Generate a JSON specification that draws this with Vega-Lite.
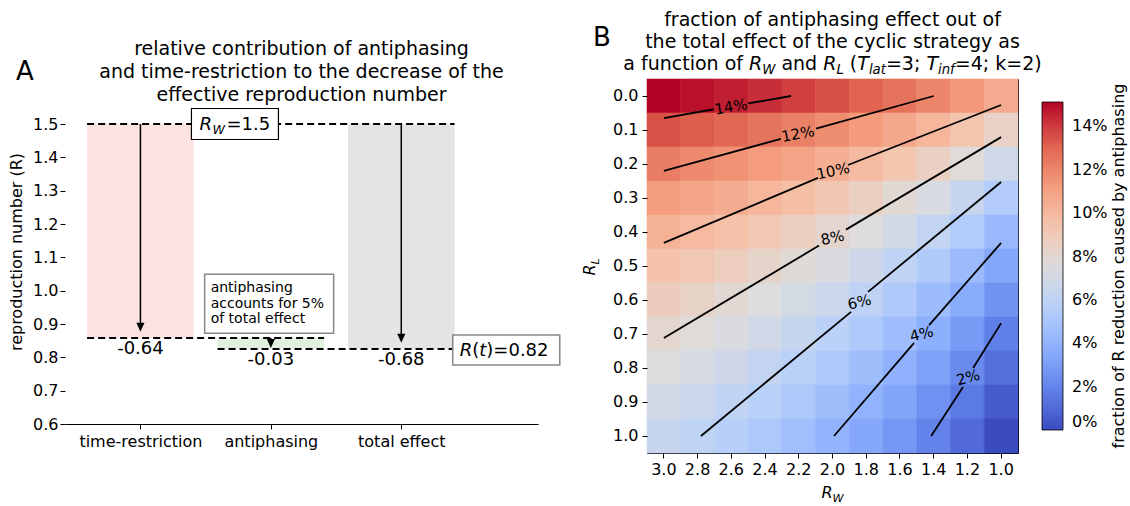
{
  "$schema": "https://vega.github.io/schema/vega-lite/v6.json",
  "padding": {"left": 8, "top": 10, "right": 0, "bottom": 0},
  "spacing": 20,
  "config": {
    "font": "DejaVu Sans",
    "view": {"stroke": null},
    "axis": {"labelFont": "DejaVu Sans", "titleFont": "DejaVu Sans", "grid": false},
    "legend": {"labelFont": "DejaVu Sans"}
  },
  "datasets": {
    "effects": [
      {"name": "time-restriction", "cat": 0, "top": 1.5, "bottom": 0.858, "tip": 0.877, "delta": "-0.64"},
      {"name": "antiphasing", "cat": 1, "top": 0.858, "bottom": 0.825, "tip": 0.828, "delta": "-0.03"},
      {"name": "total effect", "cat": 2, "top": 1.5, "bottom": 0.825, "tip": 0.844, "delta": "-0.68"}
    ],
    "levels": [
      {"level": 1.5, "start": 0, "end": 2},
      {"level": 0.858, "start": 0, "end": 1},
      {"level": 0.825, "start": 1, "end": 2}
    ],
    "grid": [
      {"RW": 3.0, "RL": 0.0, "f": 0.1513}, {"RW": 3.0, "RL": 0.1, "f": 0.1355}, {"RW": 3.0, "RL": 0.2, "f": 0.1226}, {"RW": 3.0, "RL": 0.3, "f": 0.1124}, {"RW": 3.0, "RL": 0.4, "f": 0.1029}, {"RW": 3.0, "RL": 0.5, "f": 0.0950}, {"RW": 3.0, "RL": 0.6, "f": 0.0879}, {"RW": 3.0, "RL": 0.7, "f": 0.0807}, {"RW": 3.0, "RL": 0.8, "f": 0.0753}, {"RW": 3.0, "RL": 0.9, "f": 0.0701}, {"RW": 3.0, "RL": 1.0, "f": 0.0649},
      {"RW": 2.8, "RL": 0.0, "f": 0.1487}, {"RW": 2.8, "RL": 0.1, "f": 0.1328}, {"RW": 2.8, "RL": 0.2, "f": 0.1192}, {"RW": 2.8, "RL": 0.3, "f": 0.1091}, {"RW": 2.8, "RL": 0.4, "f": 0.0992}, {"RW": 2.8, "RL": 0.5, "f": 0.0915}, {"RW": 2.8, "RL": 0.6, "f": 0.0839}, {"RW": 2.8, "RL": 0.7, "f": 0.0773}, {"RW": 2.8, "RL": 0.8, "f": 0.0717}, {"RW": 2.8, "RL": 0.9, "f": 0.0661}, {"RW": 2.8, "RL": 1.0, "f": 0.0605},
      {"RW": 2.6, "RL": 0.0, "f": 0.1460}, {"RW": 2.6, "RL": 0.1, "f": 0.1296}, {"RW": 2.6, "RL": 0.2, "f": 0.1162}, {"RW": 2.6, "RL": 0.3, "f": 0.1053}, {"RW": 2.6, "RL": 0.4, "f": 0.0958}, {"RW": 2.6, "RL": 0.5, "f": 0.0876}, {"RW": 2.6, "RL": 0.6, "f": 0.0795}, {"RW": 2.6, "RL": 0.7, "f": 0.0735}, {"RW": 2.6, "RL": 0.8, "f": 0.0675}, {"RW": 2.6, "RL": 0.9, "f": 0.0615}, {"RW": 2.6, "RL": 1.0, "f": 0.0565},
      {"RW": 2.4, "RL": 0.0, "f": 0.1427}, {"RW": 2.4, "RL": 0.1, "f": 0.1260}, {"RW": 2.4, "RL": 0.2, "f": 0.1127}, {"RW": 2.4, "RL": 0.3, "f": 0.1010}, {"RW": 2.4, "RL": 0.4, "f": 0.0918}, {"RW": 2.4, "RL": 0.5, "f": 0.0829}, {"RW": 2.4, "RL": 0.6, "f": 0.0756}, {"RW": 2.4, "RL": 0.7, "f": 0.0691}, {"RW": 2.4, "RL": 0.8, "f": 0.0626}, {"RW": 2.4, "RL": 0.9, "f": 0.0570}, {"RW": 2.4, "RL": 1.0, "f": 0.0519},
      {"RW": 2.2, "RL": 0.0, "f": 0.1391}, {"RW": 2.2, "RL": 0.1, "f": 0.1217}, {"RW": 2.2, "RL": 0.2, "f": 0.1086}, {"RW": 2.2, "RL": 0.3, "f": 0.0969}, {"RW": 2.2, "RL": 0.4, "f": 0.0872}, {"RW": 2.2, "RL": 0.5, "f": 0.0782}, {"RW": 2.2, "RL": 0.6, "f": 0.0711}, {"RW": 2.2, "RL": 0.7, "f": 0.0640}, {"RW": 2.2, "RL": 0.8, "f": 0.0576}, {"RW": 2.2, "RL": 0.9, "f": 0.0521}, {"RW": 2.2, "RL": 1.0, "f": 0.0466},
      {"RW": 2.0, "RL": 0.0, "f": 0.1357}, {"RW": 2.0, "RL": 0.1, "f": 0.1176}, {"RW": 2.0, "RL": 0.2, "f": 0.1038}, {"RW": 2.0, "RL": 0.3, "f": 0.0923}, {"RW": 2.0, "RL": 0.4, "f": 0.0816}, {"RW": 2.0, "RL": 0.5, "f": 0.0734}, {"RW": 2.0, "RL": 0.6, "f": 0.0656}, {"RW": 2.0, "RL": 0.7, "f": 0.0583}, {"RW": 2.0, "RL": 0.8, "f": 0.0523}, {"RW": 2.0, "RL": 0.9, "f": 0.0463}, {"RW": 2.0, "RL": 1.0, "f": 0.0404},
      {"RW": 1.8, "RL": 0.0, "f": 0.1310}, {"RW": 1.8, "RL": 0.1, "f": 0.1132}, {"RW": 1.8, "RL": 0.2, "f": 0.0985}, {"RW": 1.8, "RL": 0.3, "f": 0.0866}, {"RW": 1.8, "RL": 0.4, "f": 0.0762}, {"RW": 1.8, "RL": 0.5, "f": 0.0676}, {"RW": 1.8, "RL": 0.6, "f": 0.0592}, {"RW": 1.8, "RL": 0.7, "f": 0.0526}, {"RW": 1.8, "RL": 0.8, "f": 0.0460}, {"RW": 1.8, "RL": 0.9, "f": 0.0396}, {"RW": 1.8, "RL": 1.0, "f": 0.0347},
      {"RW": 1.6, "RL": 0.0, "f": 0.1261}, {"RW": 1.6, "RL": 0.1, "f": 0.1078}, {"RW": 1.6, "RL": 0.2, "f": 0.0929}, {"RW": 1.6, "RL": 0.3, "f": 0.0797}, {"RW": 1.6, "RL": 0.4, "f": 0.0700}, {"RW": 1.6, "RL": 0.5, "f": 0.0604}, {"RW": 1.6, "RL": 0.6, "f": 0.0529}, {"RW": 1.6, "RL": 0.7, "f": 0.0455}, {"RW": 1.6, "RL": 0.8, "f": 0.0386}, {"RW": 1.6, "RL": 0.9, "f": 0.0332}, {"RW": 1.6, "RL": 1.0, "f": 0.0277},
      {"RW": 1.4, "RL": 0.0, "f": 0.1200}, {"RW": 1.4, "RL": 0.1, "f": 0.1011}, {"RW": 1.4, "RL": 0.2, "f": 0.0858}, {"RW": 1.4, "RL": 0.3, "f": 0.0731}, {"RW": 1.4, "RL": 0.4, "f": 0.0621}, {"RW": 1.4, "RL": 0.5, "f": 0.0533}, {"RW": 1.4, "RL": 0.6, "f": 0.0450}, {"RW": 1.4, "RL": 0.7, "f": 0.0375}, {"RW": 1.4, "RL": 0.8, "f": 0.0314}, {"RW": 1.4, "RL": 0.9, "f": 0.0252}, {"RW": 1.4, "RL": 1.0, "f": 0.0192},
      {"RW": 1.2, "RL": 0.0, "f": 0.1141}, {"RW": 1.2, "RL": 0.1, "f": 0.0939}, {"RW": 1.2, "RL": 0.2, "f": 0.0773}, {"RW": 1.2, "RL": 0.3, "f": 0.0645}, {"RW": 1.2, "RL": 0.4, "f": 0.0538}, {"RW": 1.2, "RL": 0.5, "f": 0.0443}, {"RW": 1.2, "RL": 0.6, "f": 0.0361}, {"RW": 1.2, "RL": 0.7, "f": 0.0290}, {"RW": 1.2, "RL": 0.8, "f": 0.0219}, {"RW": 1.2, "RL": 0.9, "f": 0.0161}, {"RW": 1.2, "RL": 1.0, "f": 0.0106},
      {"RW": 1.0, "RL": 0.0, "f": 0.1063}, {"RW": 1.0, "RL": 0.1, "f": 0.0842}, {"RW": 1.0, "RL": 0.2, "f": 0.0678}, {"RW": 1.0, "RL": 0.3, "f": 0.0545}, {"RW": 1.0, "RL": 0.4, "f": 0.0434}, {"RW": 1.0, "RL": 0.5, "f": 0.0342}, {"RW": 1.0, "RL": 0.6, "f": 0.0258}, {"RW": 1.0, "RL": 0.7, "f": 0.0181}, {"RW": 1.0, "RL": 0.8, "f": 0.0119}, {"RW": 1.0, "RL": 0.9, "f": 0.0056}, {"RW": 1.0, "RL": 1.0, "f": 0.0000}
    ],
    "contours": [
      {"seg": "14a", "RW": 3.0, "RL": 0.065}, {"seg": "14a", "RW": 2.703, "RL": 0.039},
      {"seg": "14b", "RW": 2.5, "RL": 0.022}, {"seg": "14b", "RW": 2.246, "RL": 0.0},
      {"seg": "12a", "RW": 3.0, "RL": 0.22}, {"seg": "12a", "RW": 2.306, "RL": 0.126},
      {"seg": "12b", "RW": 2.098, "RL": 0.096}, {"seg": "12b", "RW": 1.4, "RL": 0.0},
      {"seg": "10a", "RW": 3.0, "RL": 0.432}, {"seg": "10a", "RW": 2.086, "RL": 0.241},
      {"seg": "10b", "RW": 1.908, "RL": 0.203}, {"seg": "10b", "RW": 1.0, "RL": 0.0265},
      {"seg": "8a", "RW": 3.0, "RL": 0.712}, {"seg": "8a", "RW": 2.08, "RL": 0.44},
      {"seg": "8b", "RW": 1.92, "RL": 0.393}, {"seg": "8b", "RW": 1.0, "RL": 0.121},
      {"seg": "6a", "RW": 2.78, "RL": 1.0}, {"seg": "6a", "RW": 1.89, "RL": 0.635},
      {"seg": "6b", "RW": 1.789, "RL": 0.576}, {"seg": "6b", "RW": 1.0, "RL": 0.253},
      {"seg": "4a", "RW": 1.991, "RL": 1.0}, {"seg": "4a", "RW": 1.516, "RL": 0.726},
      {"seg": "4b", "RW": 1.427, "RL": 0.674}, {"seg": "4b", "RW": 1.0, "RL": 0.432},
      {"seg": "2a", "RW": 1.415, "RL": 1.0}, {"seg": "2a", "RW": 1.226, "RL": 0.856},
      {"seg": "2b", "RW": 1.166, "RL": 0.8}, {"seg": "2b", "RW": 1.0, "RL": 0.668}
    ],
    "clabels": [
      {"lab": "14%", "RW": 2.602, "RL": 0.032},
      {"lab": "12%", "RW": 2.205, "RL": 0.112},
      {"lab": "10%", "RW": 1.997, "RL": 0.221},
      {"lab": "8%", "RW": 2.0, "RL": 0.417},
      {"lab": "6%", "RW": 1.84, "RL": 0.606},
      {"lab": "4%", "RW": 1.472, "RL": 0.7},
      {"lab": "2%", "RW": 1.196, "RL": 0.828}
    ]
  },
  "hconcat": [
    {
      "width": 473,
      "height": 345,
      "resolve": {"axis": {"x": "independent", "y": "independent"}},
      "layer": [
        {
          "data": {"name": "effects"},
          "mark": {"type": "bar", "width": 106.6},
          "encoding": {
            "x": {"field": "cat", "type": "quantitative",
              "scale": {"domain": [-0.54, 3.01], "nice": false, "zero": false},
              "axis": {"values": [0, 1, 2], "labelExpr": "datum.value == 0 ? 'time-restriction' : datum.value == 1 ? 'antiphasing' : 'total effect'",
                "title": null, "domainColor": "black", "tickColor": "black", "tickSize": 5, "labelFontSize": 16, "labelColor": "black", "labelPadding": 4, "labelFlush": false, "labelOverlap": false}},
            "y": {"field": "top", "type": "quantitative",
              "scale": {"domain": [0.6, 1.635], "nice": false, "zero": false},
              "axis": {"values": [0.6, 0.7, 0.8, 0.9, 1.0, 1.1, 1.2, 1.3, 1.4, 1.5], "format": ".1f", "domain": false, "tickColor": "black", "tickSize": 5,
                "labelFontSize": 16, "labelColor": "black", "labelFlush": false, "labelOverlap": false, "labelBound": false, "title": "reproduction number (R)", "titleFontSize": 16, "titleFontWeight": "normal", "titleColor": "black", "titlePadding": 8}},
            "y2": {"field": "bottom"},
            "color": {"field": "name", "type": "nominal",
              "scale": {"domain": ["time-restriction", "antiphasing", "total effect"], "range": ["#fde2e2", "#e2f0e0", "#e4e4e4"]}, "legend": null}
          }
        },
        {
          "data": {"name": "levels"},
          "mark": {"type": "rule", "strokeDash": [7, 4], "strokeWidth": 2, "color": "black", "xOffset": -53.3, "x2Offset": 53.3},
          "encoding": {
            "x": {"field": "start", "type": "quantitative", "axis": null},
            "x2": {"field": "end"},
            "y": {"field": "level", "type": "quantitative", "axis": null}
          }
        },
        {
          "data": {"name": "effects"},
          "mark": {"type": "rule", "strokeWidth": 1.5, "color": "black", "y2Offset": -5},
          "encoding": {
            "x": {"field": "cat", "type": "quantitative", "axis": null},
            "y": {"field": "top", "type": "quantitative", "axis": null},
            "y2": {"field": "tip"}
          }
        },
        {
          "data": {"name": "effects"},
          "mark": {"type": "point", "shape": "M0,0L-0.45,-1L0.45,-1Z", "size": 324, "filled": true, "color": "black", "opacity": 1, "strokeWidth": 0},
          "encoding": {
            "x": {"field": "cat", "type": "quantitative", "axis": null},
            "y": {"field": "tip", "type": "quantitative", "axis": null}
          }
        },
        {
          "data": {"name": "effects"},
          "mark": {"type": "text", "fontSize": 18, "dy": 11, "baseline": "middle", "align": "center", "color": "black"},
          "encoding": {
            "x": {"field": "cat", "type": "quantitative", "axis": null},
            "y": {"field": "bottom", "type": "quantitative", "axis": null},
            "text": {"field": "delta"}
          }
        },
        {
          "data": {"values": [{}]},
          "mark": {"type": "rect", "fill": "white", "stroke": "black", "strokeWidth": 1.2, "xOffset": -43.5, "x2Offset": 43.5, "yOffset": -15.5, "y2Offset": 15.5},
          "encoding": {"x": {"datum": 0.7246, "type": "quantitative", "axis": null}, "x2": {"datum": 0.7246}, "y": {"datum": 1.5, "type": "quantitative", "axis": null}, "y2": {"datum": 1.5}}
        },
        {
          "data": {"values": [{}]},
          "mark": {"type": "rect", "fill": "white", "stroke": "#888888", "strokeWidth": 1.5, "xOffset": -53.5, "x2Offset": 53.5, "yOffset": -15, "y2Offset": 15},
          "encoding": {"x": {"datum": 2.805, "type": "quantitative", "axis": null}, "x2": {"datum": 2.805}, "y": {"datum": 0.822, "type": "quantitative", "axis": null}, "y2": {"datum": 0.822}}
        },
        {
          "data": {"values": [{}]},
          "mark": {"type": "rect", "fill": "white", "stroke": "#888888", "strokeWidth": 1.5, "xOffset": -64.5, "x2Offset": 64.5, "yOffset": -29.5, "y2Offset": 29.5},
          "encoding": {"x": {"datum": 0.987, "type": "quantitative", "axis": null}, "x2": {"datum": 0.987}, "y": {"datum": 0.961, "type": "quantitative", "axis": null}, "y2": {"datum": 0.961}}
        },
        {
          "data": {"values": [{}]},
          "mark": {"type": "text", "text": ["antiphasing", "accounts for 5%", "of total effect"], "fontSize": 14, "lineHeight": 15.5, "align": "left", "baseline": "middle", "dx": -58.5, "dy": -15.5, "color": "black"},
          "encoding": {"x": {"datum": 0.987, "type": "quantitative", "axis": null}, "y": {"datum": 0.961, "type": "quantitative", "axis": null}}
        },
        {
          "data": {"values": [{}]},
          "mark": {"type": "text", "text": "R", "fontSize": 18, "fontStyle": "italic", "align": "left", "baseline": "alphabetic", "dx": -35.5, "dy": 6, "color": "black"},
          "encoding": {"x": {"datum": 0.7246, "type": "quantitative", "axis": null}, "y": {"datum": 1.5, "type": "quantitative", "axis": null}}
        },
        {
          "data": {"values": [{}]},
          "mark": {"type": "text", "text": "W", "fontSize": 12.6, "fontStyle": "italic", "align": "left", "baseline": "alphabetic", "dx": -22.5, "dy": 10, "color": "black"},
          "encoding": {"x": {"datum": 0.7246, "type": "quantitative", "axis": null}, "y": {"datum": 1.5, "type": "quantitative", "axis": null}}
        },
        {
          "data": {"values": [{}]},
          "mark": {"type": "text", "text": "=1.5", "fontSize": 18, "align": "left", "baseline": "alphabetic", "dx": -8.5, "dy": 6, "color": "black"},
          "encoding": {"x": {"datum": 0.7246, "type": "quantitative", "axis": null}, "y": {"datum": 1.5, "type": "quantitative", "axis": null}}
        },
        {
          "data": {"values": [{}]},
          "mark": {"type": "text", "text": "R", "fontSize": 18, "fontStyle": "italic", "align": "left", "baseline": "alphabetic", "dx": -46.5, "dy": 6, "color": "black"},
          "encoding": {"x": {"datum": 2.805, "type": "quantitative", "axis": null}, "y": {"datum": 0.822, "type": "quantitative", "axis": null}}
        },
        {
          "data": {"values": [{}]},
          "mark": {"type": "text", "text": "(", "fontSize": 18, "align": "left", "baseline": "alphabetic", "dx": -34, "dy": 6, "color": "black"},
          "encoding": {"x": {"datum": 2.805, "type": "quantitative", "axis": null}, "y": {"datum": 0.822, "type": "quantitative", "axis": null}}
        },
        {
          "data": {"values": [{}]},
          "mark": {"type": "text", "text": "t", "fontSize": 18, "fontStyle": "italic", "align": "left", "baseline": "alphabetic", "dx": -27, "dy": 6, "color": "black"},
          "encoding": {"x": {"datum": 2.805, "type": "quantitative", "axis": null}, "y": {"datum": 0.822, "type": "quantitative", "axis": null}}
        },
        {
          "data": {"values": [{}]},
          "mark": {"type": "text", "text": ")", "fontSize": 18, "align": "left", "baseline": "alphabetic", "dx": -19.9, "dy": 6, "color": "black"},
          "encoding": {"x": {"datum": 2.805, "type": "quantitative", "axis": null}, "y": {"datum": 0.822, "type": "quantitative", "axis": null}}
        },
        {
          "data": {"values": [{}]},
          "mark": {"type": "text", "text": "=0.82", "fontSize": 18, "align": "left", "baseline": "alphabetic", "dx": -12.9, "dy": 6, "color": "black"},
          "encoding": {"x": {"datum": 2.805, "type": "quantitative", "axis": null}, "y": {"datum": 0.822, "type": "quantitative", "axis": null}}
        },
        {
          "data": {"values": [{}]},
          "mark": {"type": "text", "text": "A", "fontSize": 26, "align": "center", "baseline": "middle", "dx": -45, "dy": -7, "color": "black"},
          "encoding": {"x": {"datum": -0.54, "type": "quantitative", "axis": null}, "y": {"datum": 1.635, "type": "quantitative", "axis": null}}
        },
        {
          "data": {"values": [{}]},
          "mark": {"type": "text", "text": ["relative contribution of antiphasing", "and time-restriction to the decrease of the", "effective reproduction number"], "fontSize": 19, "lineHeight": 23, "align": "center", "baseline": "middle", "dy": -30, "color": "black"},
          "encoding": {"x": {"datum": 1.235, "type": "quantitative", "axis": null}, "y": {"datum": 1.635, "type": "quantitative", "axis": null}}
        }
      ]
    },
    {
      "width": 371,
      "height": 374,
      "view": {"stroke": "black", "strokeWidth": 1},
      "resolve": {"scale": {"x": "independent", "y": "independent"}},
      "layer": [
        {
          "data": {"name": "grid"},
          "mark": {"type": "rect", "strokeWidth": 0.6},
          "encoding": {
            "x": {"field": "RW", "type": "ordinal", "sort": "descending",
              "scale": {"paddingInner": 0, "paddingOuter": 0},
              "axis": {"labelExpr": "format(datum.value, '.1f')", "title": null, "labelAngle": 0, "tickSize": 5, "tickColor": "black", "labelColor": "black", "labelFontSize": 16, "domain": false, "labelPadding": 3}},
            "y": {"field": "RL", "type": "ordinal",
              "scale": {"paddingInner": 0, "paddingOuter": 0},
              "axis": {"labelExpr": "format(datum.value, '.1f')", "title": null, "tickSize": 5, "tickColor": "black", "labelColor": "black", "labelFontSize": 16, "domain": false, "labelPadding": 4}},
            "color": {"field": "f", "type": "quantitative",
              "scale": {"domain": [0, 0.0189, 0.0378, 0.0567, 0.0757, 0.0946, 0.1135, 0.1324, 0.1513],
                "range": ["#3b4cc0", "#6282ea", "#8db0fe", "#b8d0f9", "#dddddd", "#f5c4ac", "#f49a7b", "#de604d", "#b40426"], "interpolate": "rgb"},
              "legend": {"title": null, "orient": "none", "legendX": 395, "legendY": 23, "direction": "vertical", "gradientLength": 328, "gradientThickness": 21,
                "values": [0, 0.02, 0.04, 0.06, 0.08, 0.1, 0.12, 0.14], "format": ".0%", "labelFontSize": 16, "labelColor": "black", "labelOffset": 9,
                "gradientStrokeColor": "black", "gradientStrokeWidth": 0.8, "padding": 0, "labelOverlap": false}},
            "stroke": {"field": "f", "type": "quantitative",
              "scale": {"domain": [0, 0.0189, 0.0378, 0.0567, 0.0757, 0.0946, 0.1135, 0.1324, 0.1513],
                "range": ["#3b4cc0", "#6282ea", "#8db0fe", "#b8d0f9", "#dddddd", "#f5c4ac", "#f49a7b", "#de604d", "#b40426"], "interpolate": "rgb"},
              "legend": null}
          }
        },
        {
          "layer": [
            {
              "data": {"name": "contours"},
              "mark": {"type": "line", "color": "black", "strokeWidth": 1.8},
              "encoding": {
                "x": {"field": "RW", "type": "quantitative", "scale": {"domain": [0.9, 3.1], "reverse": true, "nice": false, "zero": false}, "axis": null},
                "y": {"field": "RL", "type": "quantitative", "scale": {"domain": [-0.05, 1.05], "reverse": true, "nice": false, "zero": false}, "axis": null},
                "detail": {"field": "seg"}
              }
            },
            {
              "data": {"name": "clabels"},
              "mark": {"type": "text", "fontSize": 15, "align": "center", "baseline": "middle", "color": "black"},
              "encoding": {
                "x": {"field": "RW", "type": "quantitative", "axis": null},
                "y": {"field": "RL", "type": "quantitative", "axis": null},
                "text": {"field": "lab"},
                "angle": {"field": "lab", "type": "ordinal", "scale": {"domain": ["14%", "12%", "10%", "8%", "6%", "4%", "2%"], "range": [350, 345, 337, 329, 320, 311, 302]}, "legend": null}
              }
            },
            {"data": {"values": [{}]}, "mark": {"type": "text", "text": ["fraction of antiphasing effect out of", "the total effect of the cyclic strategy as"], "fontSize": 19, "lineHeight": 21.5, "align": "center", "baseline": "middle", "dy": -59, "color": "black"},
              "encoding": {"x": {"datum": 2.0, "type": "quantitative", "axis": null}, "y": {"datum": -0.05, "type": "quantitative", "axis": null}}},
            {"data": {"values": [{}]}, "mark": {"type": "text", "text": "a function of", "fontSize": 19, "align": "left", "baseline": "alphabetic", "dx": -209.2, "dy": -9, "color": "black"},
              "encoding": {"x": {"datum": 2.0, "type": "quantitative", "axis": null}, "y": {"datum": -0.05, "type": "quantitative", "axis": null}}},
            {"data": {"values": [{}]}, "mark": {"type": "text", "text": "R", "fontSize": 19, "fontStyle": "italic", "align": "left", "baseline": "alphabetic", "dx": -83.5, "dy": -9, "color": "black"},
              "encoding": {"x": {"datum": 2.0, "type": "quantitative", "axis": null}, "y": {"datum": -0.05, "type": "quantitative", "axis": null}}},
            {"data": {"values": [{}]}, "mark": {"type": "text", "text": "W", "fontSize": 13.3, "fontStyle": "italic", "align": "left", "baseline": "alphabetic", "dx": -70.3, "dy": -5, "color": "black"},
              "encoding": {"x": {"datum": 2.0, "type": "quantitative", "axis": null}, "y": {"datum": -0.05, "type": "quantitative", "axis": null}}},
            {"data": {"values": [{}]}, "mark": {"type": "text", "text": "and", "fontSize": 19, "align": "left", "baseline": "alphabetic", "dx": -51.1, "dy": -9, "color": "black"},
              "encoding": {"x": {"datum": 2.0, "type": "quantitative", "axis": null}, "y": {"datum": -0.05, "type": "quantitative", "axis": null}}},
            {"data": {"values": [{}]}, "mark": {"type": "text", "text": "R", "fontSize": 19, "fontStyle": "italic", "align": "left", "baseline": "alphabetic", "dx": -9.3, "dy": -9, "color": "black"},
              "encoding": {"x": {"datum": 2.0, "type": "quantitative", "axis": null}, "y": {"datum": -0.05, "type": "quantitative", "axis": null}}},
            {"data": {"values": [{}]}, "mark": {"type": "text", "text": "L", "fontSize": 13.3, "fontStyle": "italic", "align": "left", "baseline": "alphabetic", "dx": 3.9, "dy": -5, "color": "black"},
              "encoding": {"x": {"datum": 2.0, "type": "quantitative", "axis": null}, "y": {"datum": -0.05, "type": "quantitative", "axis": null}}},
            {"data": {"values": [{}]}, "mark": {"type": "text", "text": "(", "fontSize": 19, "align": "left", "baseline": "alphabetic", "dx": 17.3, "dy": -9, "color": "black"},
              "encoding": {"x": {"datum": 2.0, "type": "quantitative", "axis": null}, "y": {"datum": -0.05, "type": "quantitative", "axis": null}}},
            {"data": {"values": [{}]}, "mark": {"type": "text", "text": "T", "fontSize": 19, "fontStyle": "italic", "align": "left", "baseline": "alphabetic", "dx": 24.8, "dy": -9, "color": "black"},
              "encoding": {"x": {"datum": 2.0, "type": "quantitative", "axis": null}, "y": {"datum": -0.05, "type": "quantitative", "axis": null}}},
            {"data": {"values": [{}]}, "mark": {"type": "text", "text": "lat", "fontSize": 13.3, "fontStyle": "italic", "align": "left", "baseline": "alphabetic", "dx": 36.4, "dy": -5, "color": "black"},
              "encoding": {"x": {"datum": 2.0, "type": "quantitative", "axis": null}, "y": {"datum": -0.05, "type": "quantitative", "axis": null}}},
            {"data": {"values": [{}]}, "mark": {"type": "text", "text": "=3;", "fontSize": 19, "align": "left", "baseline": "alphabetic", "dx": 53.4, "dy": -9, "color": "black"},
              "encoding": {"x": {"datum": 2.0, "type": "quantitative", "axis": null}, "y": {"datum": -0.05, "type": "quantitative", "axis": null}}},
            {"data": {"values": [{}]}, "mark": {"type": "text", "text": "T", "fontSize": 19, "fontStyle": "italic", "align": "left", "baseline": "alphabetic", "dx": 93.9, "dy": -9, "color": "black"},
              "encoding": {"x": {"datum": 2.0, "type": "quantitative", "axis": null}, "y": {"datum": -0.05, "type": "quantitative", "axis": null}}},
            {"data": {"values": [{}]}, "mark": {"type": "text", "text": "inf", "fontSize": 13.3, "fontStyle": "italic", "align": "left", "baseline": "alphabetic", "dx": 105.5, "dy": -5, "color": "black"},
              "encoding": {"x": {"datum": 2.0, "type": "quantitative", "axis": null}, "y": {"datum": -0.05, "type": "quantitative", "axis": null}}},
            {"data": {"values": [{}]}, "mark": {"type": "text", "text": "=4; k=2)", "fontSize": 19, "align": "left", "baseline": "alphabetic", "dx": 122.3, "dy": -9, "color": "black"},
              "encoding": {"x": {"datum": 2.0, "type": "quantitative", "axis": null}, "y": {"datum": -0.05, "type": "quantitative", "axis": null}}},
            {"data": {"values": [{}]}, "mark": {"type": "text", "text": "R", "fontSize": 16, "fontStyle": "italic", "align": "left", "baseline": "alphabetic", "dx": -11.1, "dy": 45, "color": "black"},
              "encoding": {"x": {"datum": 2.0, "type": "quantitative", "axis": null}, "y": {"datum": 1.05, "type": "quantitative", "axis": null}}},
            {"data": {"values": [{}]}, "mark": {"type": "text", "text": "W", "fontSize": 11.2, "fontStyle": "italic", "align": "left", "baseline": "alphabetic", "dx": 0, "dy": 49, "color": "black"},
              "encoding": {"x": {"datum": 2.0, "type": "quantitative", "axis": null}, "y": {"datum": 1.05, "type": "quantitative", "axis": null}}},
            {"data": {"values": [{}]}, "mark": {"type": "text", "text": "R", "fontSize": 16, "fontStyle": "italic", "angle": 270, "align": "left", "baseline": "alphabetic", "dx": -9.5, "dy": -52, "color": "black"},
              "encoding": {"x": {"datum": 3.1, "type": "quantitative", "axis": null}, "y": {"datum": 0.5, "type": "quantitative", "axis": null}}},
            {"data": {"values": [{}]}, "mark": {"type": "text", "text": "L", "fontSize": 11.2, "fontStyle": "italic", "angle": 270, "align": "left", "baseline": "alphabetic", "dx": 1.6, "dy": -48.5, "color": "black"},
              "encoding": {"x": {"datum": 3.1, "type": "quantitative", "axis": null}, "y": {"datum": 0.5, "type": "quantitative", "axis": null}}},
            {"data": {"values": [{}]}, "mark": {"type": "text", "text": "fraction of R reduction caused by antiphasing", "fontSize": 16, "angle": 270, "align": "center", "baseline": "middle", "color": "black"},
              "encoding": {"x": {"datum": 0.301, "type": "quantitative", "axis": null}, "y": {"datum": 0.5, "type": "quantitative", "axis": null}}},
            {"data": {"values": [{}]}, "mark": {"type": "text", "text": "B", "fontSize": 26, "align": "center", "baseline": "middle", "color": "black"},
              "encoding": {"x": {"datum": 3.367, "type": "quantitative", "axis": null}, "y": {"datum": -0.171, "type": "quantitative", "axis": null}}}
          ]
        }
      ]
    }
  ]
}
